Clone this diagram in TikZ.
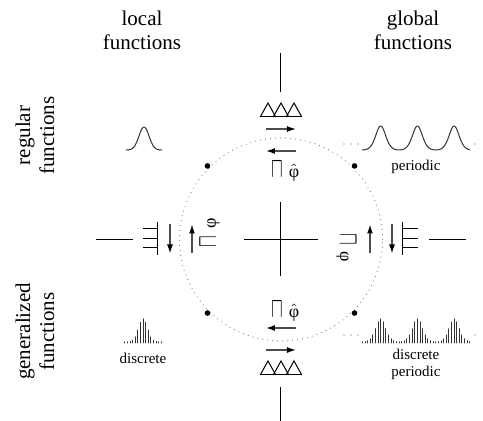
\documentclass[tikz,border=0pt]{standalone}
\usepackage{fontspec}
\setmainfont{Liberation Serif}
\usetikzlibrary{arrows.meta}
\newcommand{\capsym}{\scalebox{0.8}[1.3]{$\sqcap$}}
\newcommand{\phisym}{φ}
\newcommand{\hatphi}{$\hat{\mbox{φ}}$}

\begin{document}
\begin{tikzpicture}[
    x=5pt, y=5pt,
    head/.style={align=center, font=\fontsize{10.5}{12}\selectfont},
    tag/.style={align=center, font=\fontsize{7.5}{8.5}\selectfont},
    op/.style={inner sep=0pt, font=\fontsize{10.5}{12}\selectfont},
    greek/.style={inner sep=0pt, font=\fontsize{9}{10}\selectfont},
    flow/.style={line width=0.7pt, black!70, -{Latex[length=4.5pt, width=3pt, black]}},
    ring/.style={gray, line width=0.6pt, dash pattern=on 0pt off 2.5pt, line cap=round},
    lead/.style={black!70, line width=0.7pt, dash pattern=on 0pt off 3.5pt, line cap=round},
    curve/.style={black!80, line width=0.5pt},
    stick/.style={black!80, line width=0.45pt, line cap=round},
    every path/.style={line width=0.5pt}
]
\useasboundingbox (-28.1,-18.15) rectangle (20.2,23.95);

% Headings
\node[head] (local) at (-13.9,20.95) {local\\functions};
\node[head] (global) at (13.2,20.95) {global\\functions};
\node[head, rotate=90] (regular) at (-24.6,10.4) {regular\\functions};
\node[head, rotate=90] (general) at (-24.6,-9.2) {generalized\\functions};

% Circle and cross
\draw[ring] (0,0) circle (10.15);
\foreach \a in {45,135,225,315}
    \fill (\a:10.4) circle (0.28);
\draw (-3.7,0) -- (3.7,0);
\draw (0,-3.7) -- (0,3.7);

% Top
\draw (0,14.75) -- (0,18.65);
\foreach \t in {-1.3,0,1.3}
    \draw (\t-0.78,12.25) -- (\t,13.65) -- (\t+0.78,12.25);
\draw (-2.1,12.25) -- (2.1,12.25);
\draw[flow] (-1.5,11.05) -- (1.5,11.05);
\draw[flow] (1.5,8.85) -- (-1.5,8.85);
\node[op] (captop) at (-0.35,6.95) {\capsym};
\node[greek] (phitop) at (1.3,6.7) {\hatphi};

% Bottom
\draw (0,-14.75) -- (0,-18.3);
\foreach \t in {-1.3,0,1.3}
    \draw (\t-0.78,-13.55) -- (\t,-12.15) -- (\t+0.78,-13.55);
\draw (-2.1,-13.55) -- (2.1,-13.55);
\draw[flow] (-1.5,-11.05) -- (1.5,-11.05);
\draw[flow] (1.5,-8.85) -- (-1.5,-8.85);
\node[op] (capbot) at (-0.4,-7.05) {\capsym};
\node[greek] (phibot) at (1.3,-7.35) {\hatphi};

% Left
\draw (-18.5,0) -- (-14.8,0);
\draw (-12.3,1.75) -- (-12.3,-1.55);
\foreach \t in {1.05,0.1,-0.85}
    \draw (-13.8,\t) -- (-12.3,\t);
\draw[flow] (-11.1,1.5) -- (-11.1,-1.4);
\draw[flow] (-8.9,-1.4) -- (-8.9,1.5);
\node[op, rotate=90] (capleft) at (-7.25,-0.2) {\capsym};
\node[greek, rotate=90] (phileft) at (-6.75,1.65) {\phisym};

% Right
\draw (14.8,0) -- (18.5,0);
\draw (12.2,1.75) -- (12.2,-1.55);
\foreach \t in {1.05,0.1,-0.85}
    \draw (12.2,\t) -- (13.7,\t);
\draw[flow] (11.1,1.5) -- (11.1,-1.4);
\draw[flow] (8.9,-1.4) -- (8.9,1.5);
\node[op, rotate=-90] (capright) at (6.65,0) {\capsym};
\node[greek, rotate=-90] (phiright) at (6.15,-1.75) {\phisym};

% Regular functions
\draw[curve] plot[domain=-15.5:-11.9, samples=60, smooth]
    (\x, {8.95 + 2.3*exp(-((\x+13.7)^2)/0.5)});
\draw[curve] plot[domain=8.1:18.9, samples=160, smooth]
    (\x, {8.95 + 2.4*(exp(1.365*(cos(360*(\x-9.97)/3.67)-1)) - 0.0652)/0.9348});
\draw[lead] (6.3,9.55) -- (7.8,9.55);
\draw[lead] (19.4,9.55) -- (19.4,9.55);
\node[tag] (periodic) at (13.5,7.25) {periodic};

% Generalized functions
\foreach \k in {-7,...,7}
    \draw[stick] ({-13.8+0.26*\k},-10.35) -- ++(0,{0.12 + 2.3*exp(-((0.26*\k)^2)/0.4)});
\foreach \k in {0,...,41}
    \draw[stick] ({8.136+0.262*\k},-10.35)
        -- ++(0,{0.12 + 2.3*(exp(1.365*(cos(360*(0.262*\k-1.834)/3.67)-1)) - 0.0652)/0.9348});
\draw[lead] (6.3,-9.55) -- (7.8,-9.55);
\draw[lead] (19.4,-9.55) -- (19.4,-9.55);
\node[tag] (discrete) at (-13.8,-11.9) {discrete};
\node[tag] (discper) at (13.5,-12.45) {discrete\\periodic};

\end{tikzpicture}
\end{document}
